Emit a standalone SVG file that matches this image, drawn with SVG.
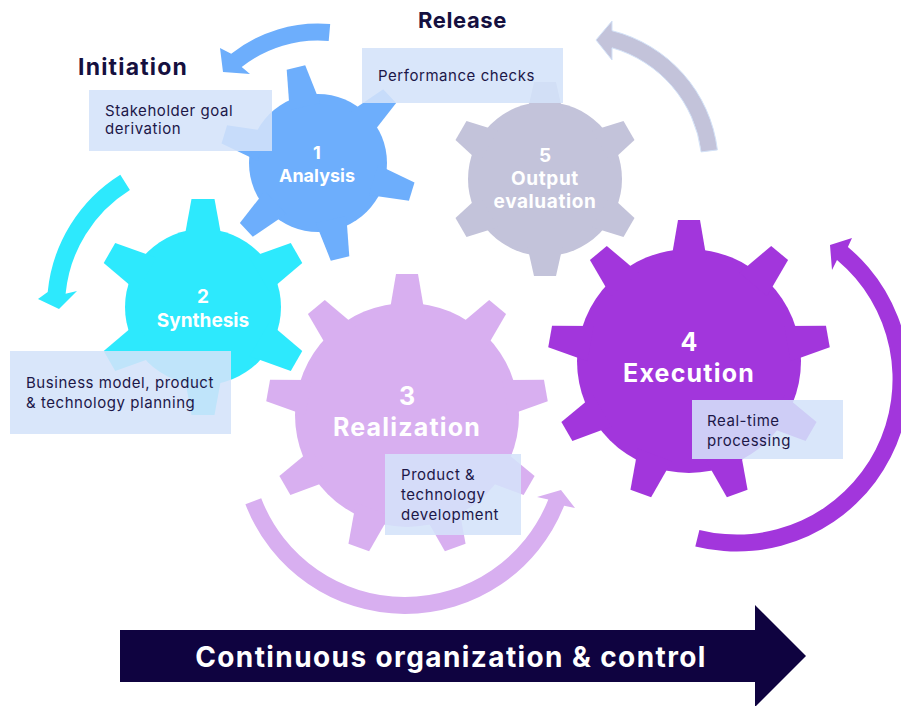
<svg xmlns="http://www.w3.org/2000/svg" xmlns:xlink="http://www.w3.org/1999/xlink" width="901" height="706" viewBox="0 0 901 706">
<defs>
<style>
.lbl{font-family:Inter,"Noto Sans","Liberation Sans",sans-serif;font-weight:700;fill:#ffffff;text-anchor:middle}
.ttl{font-family:Inter,"Noto Sans","Liberation Sans",sans-serif;font-weight:700;fill:#15103f}
.note{font-family:Inter,"Noto Sans","Liberation Sans",sans-serif;font-size:15px;letter-spacing:0.55px;fill:#1c1748}
.box{fill:#d4e3f9;fill-opacity:0.88}
</style>
<path id="t1" d="M -15.7 -58 L -9.5 -98 L 9.5 -98 L 15.7 -58 Z"/>
<path id="t2" d="M -19.4 -65 L -11.5 -108 L 11.5 -108 L 19.4 -65 Z"/>
<path id="t5" d="M -18.2 -65 L -11 -97 L 11 -97 L 18.2 -65 Z"/>
<path id="t3" d="M -18 -100 L -11 -141 L 11 -141 L 18 -100 Z"/>
</defs>
<rect width="901" height="706" fill="#ffffff"/>

<g id="connectors">
<path id="arrow-release-initiation" fill="#6daefc" d="M 330.2 24.0 A 139.5 139.5 0 0 0 231.2 53.8 L 220 48 L 223 72 L 250 74 L 241.7 67.1 A 122.5 122.5 0 0 1 328.7 41.0 Z"/>
<path id="arrow-synthesis" fill="#2de9fd" d="M 120.3 174.7 A 156 156 0 0 0 47.7 292.1 L 38 299 L 59 309 L 77 291 L 65.6 293.8 A 138 138 0 0 1 129.9 190.0 Z"/>
<path id="arrow-realization" fill="#d8aff0" d="M 245.4 504.3 A 171 171 0 0 0 564.1 505.7 L 575 508 L 561 490 L 537 497 L 548.3 499.4 A 154 154 0 0 1 261.2 498.2 Z"/>
<path id="arrow-execution" fill="#a236dc" d="M 695.3 546.4 A 172.5 172.5 0 0 0 847.9 246.9 L 852 238 L 830 245 L 832 270 L 837.0 259.9 A 155.5 155.5 0 0 1 699.4 529.9 Z"/>
<path id="arrow-evaluation" fill="#c3c3da" stroke="#d3e2f8" stroke-width="1" d="M 717.4 149.9 A 140.5 140.5 0 0 0 612 30.7 L 612 21 L 596 40 L 612 60 L 612 47.8 A 124 124 0 0 1 701.1 151.9 Z"/>
</g>

<g id="gear1">
<g transform="translate(318 163)" fill="#6daefc">
<circle r="69"/>
<use xlink:href="#t1" transform="rotate(-13)"/>
<use xlink:href="#t1" transform="rotate(47)"/>
<use xlink:href="#t1" transform="rotate(107)"/>
<use xlink:href="#t1" transform="rotate(167)"/>
<use xlink:href="#t1" transform="rotate(227)"/>
<use xlink:href="#t1" transform="rotate(287)"/>
</g>
<text class="lbl" x="317" y="159" font-size="18">1</text>
<text class="lbl" x="317" y="182" font-size="18">Analysis</text>
</g>

<g id="gear2">
<g transform="translate(203 307)" fill="#2de9fd">
<circle r="78"/>
<use xlink:href="#t2"/>
<use xlink:href="#t2" transform="rotate(60)"/>
<use xlink:href="#t2" transform="rotate(120)"/>
<use xlink:href="#t2" transform="rotate(180)"/>
<use xlink:href="#t2" transform="rotate(240)"/>
<use xlink:href="#t2" transform="rotate(300)"/>
</g>
<text class="lbl" x="203" y="303" font-size="19">2</text>
<text class="lbl" x="203" y="327" font-size="19">Synthesis</text>
</g>

<g id="gear5">
<g transform="translate(545 179)" fill="#c3c3da">
<circle r="77"/>
<use xlink:href="#t5"/>
<use xlink:href="#t5" transform="rotate(60)"/>
<use xlink:href="#t5" transform="rotate(120)"/>
<use xlink:href="#t5" transform="rotate(180)"/>
<use xlink:href="#t5" transform="rotate(240)"/>
<use xlink:href="#t5" transform="rotate(300)"/>
</g>
<text class="lbl" x="545" y="162" font-size="19">5</text>
<text class="lbl" x="545" y="185" font-size="19" letter-spacing="0.6">Output</text>
<text class="lbl" x="545" y="208" font-size="19" letter-spacing="0.6">evaluation</text>
</g>

<g id="gear3">
<g transform="translate(407 415)" fill="#d8aff0">
<circle r="112"/>
<use xlink:href="#t3"/>
<use xlink:href="#t3" transform="rotate(40)"/>
<use xlink:href="#t3" transform="rotate(80)"/>
<use xlink:href="#t3" transform="rotate(120)"/>
<use xlink:href="#t3" transform="rotate(160)"/>
<use xlink:href="#t3" transform="rotate(200)"/>
<use xlink:href="#t3" transform="rotate(240)"/>
<use xlink:href="#t3" transform="rotate(280)"/>
<use xlink:href="#t3" transform="rotate(320)"/>
</g>
<text class="lbl" x="407" y="405" font-size="25">3</text>
<text class="lbl" x="407" y="436" font-size="25" letter-spacing="1.2">Realization</text>
</g>

<g id="gear4">
<g transform="translate(689 361)" fill="#a236dc">
<circle r="112"/>
<use xlink:href="#t3"/>
<use xlink:href="#t3" transform="rotate(40)"/>
<use xlink:href="#t3" transform="rotate(80)"/>
<use xlink:href="#t3" transform="rotate(120)"/>
<use xlink:href="#t3" transform="rotate(160)"/>
<use xlink:href="#t3" transform="rotate(200)"/>
<use xlink:href="#t3" transform="rotate(240)"/>
<use xlink:href="#t3" transform="rotate(280)"/>
<use xlink:href="#t3" transform="rotate(320)"/>
</g>
<text class="lbl" x="689" y="351" font-size="25">4</text>
<text class="lbl" x="689" y="382" font-size="25" letter-spacing="1.2">Execution</text>
</g>

<g id="title-initiation"><text class="ttl" x="78" y="75" font-size="23" letter-spacing="1.2">Initiation</text></g>
<g id="title-release"><text class="ttl" x="418" y="28" font-size="22" letter-spacing="0.6">Release</text></g>

<g id="note-stakeholder">
<rect class="box" x="89" y="90" width="183" height="61"/>
<text class="note" x="105" y="116">Stakeholder goal</text>
<text class="note" x="105" y="134">derivation</text>
</g>
<g id="note-performance">
<rect class="box" x="362" y="48" width="201" height="55"/>
<text class="note" x="378" y="81">Performance checks</text>
</g>
<g id="note-business">
<rect class="box" x="10" y="351" width="221" height="83"/>
<text class="note" x="26" y="388">Business model, product</text>
<text class="note" x="26" y="408">&amp; technology planning</text>
</g>
<g id="note-product">
<rect class="box" x="385" y="454" width="136" height="81"/>
<text class="note" x="401" y="480">Product &amp;</text>
<text class="note" x="401" y="500">technology</text>
<text class="note" x="401" y="520">development</text>
</g>
<g id="note-realtime">
<rect class="box" x="692" y="400" width="151" height="59"/>
<text class="note" x="707" y="426">Real-time</text>
<text class="note" x="707" y="446">processing</text>
</g>

<g id="bottom-arrow">
<polygon fill="#0f0340" points="120,630 755,630 755,605 806,656 755,707 755,682 120,682"/>
<text class="lbl" x="451" y="667" font-size="28" letter-spacing="1.4">Continuous organization &amp; control</text>
</g>
</svg>
